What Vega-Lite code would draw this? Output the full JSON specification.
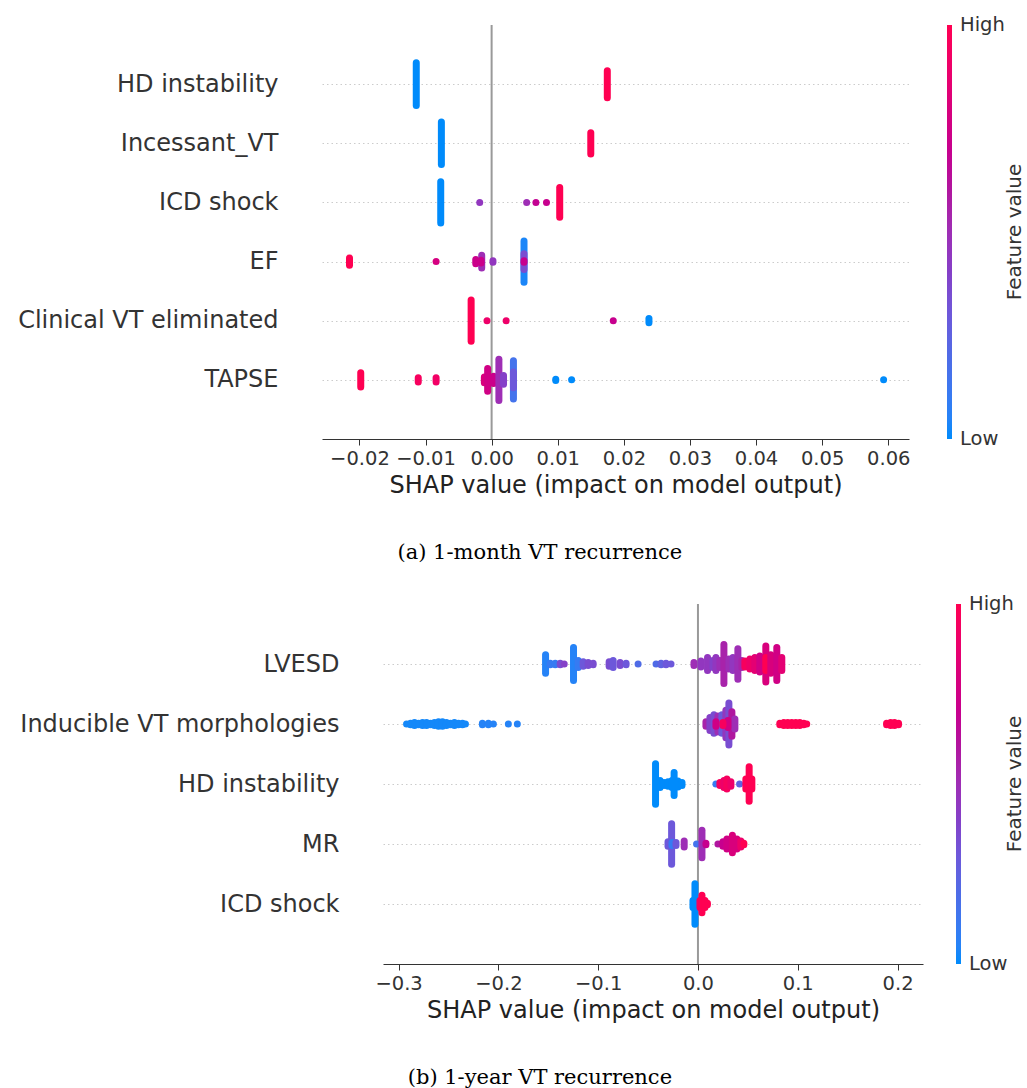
{
  "$schema": "https://vega.github.io/schema/vega-lite/v6.json",
  "padding": {"left": 17, "top": 24, "right": 0, "bottom": 0},
  "config": {
    "font": "DejaVu Sans",
    "view": {"stroke": null},
    "axis": {"labelColor": "#333333", "titleColor": "#222222", "titleFontWeight": "normal", "domainColor": "#333333", "tickColor": "#333333", "labelLimit": 0},
    "legend": {"labelColor": "#333333", "titleColor": "#333333", "titleFontWeight": "normal"}
  },
  "datasets": {
    "pts": [
      {"p":"a","f":"HD instability","v":-0.0114,"c":0,"n":31},
      {"p":"a","f":"HD instability","v":0.0175,"c":1,"n":20},
      {"p":"a","f":"Incessant_VT","v":-0.0076,"c":0,"n":31},
      {"p":"a","f":"Incessant_VT","v":0.0150,"c":1,"n":16},
      {"p":"a","f":"ICD shock","v":-0.0077,"c":0,"n":30},
      {"p":"a","f":"ICD shock","v":-0.0018,"c":0.45,"n":1},
      {"p":"a","f":"ICD shock","v":0.0053,"c":0.5,"n":1},
      {"p":"a","f":"ICD shock","v":0.0067,"c":0.68,"n":1},
      {"p":"a","f":"ICD shock","v":0.0083,"c":0.7,"n":1},
      {"p":"a","f":"ICD shock","v":0.0103,"c":1,"n":22},
      {"p":"a","f":"EF","v":-0.0215,"c":1,"n":6},
      {"p":"a","f":"EF","v":-0.0084,"c":0.78,"n":1},
      {"p":"a","f":"EF","v":-0.0024,"c":0.72,"n":4},
      {"p":"a","f":"EF","v":-0.0015,"c":0.5,"n":10},
      {"p":"a","f":"EF","v":-0.0016,"c":0.72,"n":3},
      {"p":"a","f":"EF","v":0.0002,"c":0.45,"n":2},
      {"p":"a","f":"EF","v":0.0049,"c":0.03,"n":30},
      {"p":"a","f":"EF","v":0.0049,"c":0.35,"n":12},
      {"p":"a","f":"EF","v":0.0049,"c":0.7,"n":2},
      {"p":"a","f":"Clinical VT eliminated","v":-0.0031,"c":1,"n":30},
      {"p":"a","f":"Clinical VT eliminated","v":-0.0007,"c":0.9,"n":1},
      {"p":"a","f":"Clinical VT eliminated","v":0.0022,"c":0.9,"n":1},
      {"p":"a","f":"Clinical VT eliminated","v":0.0184,"c":0.7,"n":1},
      {"p":"a","f":"Clinical VT eliminated","v":0.0238,"c":0,"n":4},
      {"p":"a","f":"TAPSE","v":-0.0198,"c":1,"n":11},
      {"p":"a","f":"TAPSE","v":-0.0111,"c":0.95,"n":4},
      {"p":"a","f":"TAPSE","v":-0.0084,"c":0.92,"n":4},
      {"p":"a","f":"TAPSE","v":-0.0011,"c":0.8,"n":5},
      {"p":"a","f":"TAPSE","v":-0.0006,"c":0.75,"n":17},
      {"p":"a","f":"TAPSE","v":0.0003,"c":0.72,"n":6},
      {"p":"a","f":"TAPSE","v":0.0011,"c":0.5,"n":30},
      {"p":"a","f":"TAPSE","v":0.0018,"c":0.4,"n":7},
      {"p":"a","f":"TAPSE","v":0.0033,"c":0.15,"n":28},
      {"p":"a","f":"TAPSE","v":0.0033,"c":0.3,"n":12},
      {"p":"a","f":"TAPSE","v":0.0097,"c":0,"n":2},
      {"p":"a","f":"TAPSE","v":0.0121,"c":0,"n":1},
      {"p":"a","f":"TAPSE","v":0.0593,"c":0,"n":1},

      {"p":"b","f":"LVESD","v":-0.1527,"c":0.05,"n":14},
      {"p":"b","f":"LVESD","v":-0.148,"c":0.1,"n":2},
      {"p":"b","f":"LVESD","v":-0.143,"c":0.1,"n":2},
      {"p":"b","f":"LVESD","v":-0.138,"c":0.35,"n":2},
      {"p":"b","f":"LVESD","v":-0.134,"c":0.4,"n":1},
      {"p":"b","f":"LVESD","v":-0.1247,"c":0.05,"n":24},
      {"p":"b","f":"LVESD","v":-0.120,"c":0.1,"n":6},
      {"p":"b","f":"LVESD","v":-0.115,"c":0.3,"n":4},
      {"p":"b","f":"LVESD","v":-0.110,"c":0.35,"n":3},
      {"p":"b","f":"LVESD","v":-0.105,"c":0.35,"n":2},
      {"p":"b","f":"LVESD","v":-0.089,"c":0.35,"n":4},
      {"p":"b","f":"LVESD","v":-0.085,"c":0.3,"n":6},
      {"p":"b","f":"LVESD","v":-0.078,"c":0.35,"n":3},
      {"p":"b","f":"LVESD","v":-0.072,"c":0.3,"n":2},
      {"p":"b","f":"LVESD","v":-0.060,"c":0.2,"n":1},
      {"p":"b","f":"LVESD","v":-0.042,"c":0.2,"n":1},
      {"p":"b","f":"LVESD","v":-0.037,"c":0.25,"n":2},
      {"p":"b","f":"LVESD","v":-0.032,"c":0.3,"n":2},
      {"p":"b","f":"LVESD","v":-0.027,"c":0.3,"n":1},
      {"p":"b","f":"LVESD","v":-0.004,"c":0.5,"n":3},
      {"p":"b","f":"LVESD","v":0.003,"c":0.45,"n":5},
      {"p":"b","f":"LVESD","v":0.0096,"c":0.45,"n":10},
      {"p":"b","f":"LVESD","v":0.015,"c":0.4,"n":6},
      {"p":"b","f":"LVESD","v":0.018,"c":0.45,"n":10},
      {"p":"b","f":"LVESD","v":0.022,"c":0.5,"n":6},
      {"p":"b","f":"LVESD","v":0.026,"c":0.55,"n":28},
      {"p":"b","f":"LVESD","v":0.031,"c":0.5,"n":8},
      {"p":"b","f":"LVESD","v":0.035,"c":0.45,"n":10},
      {"p":"b","f":"LVESD","v":0.040,"c":0.5,"n":22},
      {"p":"b","f":"LVESD","v":0.044,"c":0.55,"n":6},
      {"p":"b","f":"LVESD","v":0.047,"c":0.95,"n":5},
      {"p":"b","f":"LVESD","v":0.052,"c":0.9,"n":8},
      {"p":"b","f":"LVESD","v":0.057,"c":0.85,"n":10},
      {"p":"b","f":"LVESD","v":0.062,"c":0.75,"n":12},
      {"p":"b","f":"LVESD","v":0.068,"c":0.8,"n":26},
      {"p":"b","f":"LVESD","v":0.068,"c":1,"n":10},
      {"p":"b","f":"LVESD","v":0.073,"c":0.8,"n":14},
      {"p":"b","f":"LVESD","v":0.079,"c":0.75,"n":24},
      {"p":"b","f":"LVESD","v":0.084,"c":0.85,"n":10},

      {"p":"b","f":"Inducible VT morphologies","v":-0.292,"c":0.02,"n":1},
      {"p":"b","f":"Inducible VT morphologies","v":-0.288,"c":0.02,"n":2},
      {"p":"b","f":"Inducible VT morphologies","v":-0.284,"c":0.02,"n":3},
      {"p":"b","f":"Inducible VT morphologies","v":-0.280,"c":0.02,"n":2},
      {"p":"b","f":"Inducible VT morphologies","v":-0.276,"c":0.02,"n":3},
      {"p":"b","f":"Inducible VT morphologies","v":-0.272,"c":0.02,"n":3},
      {"p":"b","f":"Inducible VT morphologies","v":-0.268,"c":0.02,"n":2},
      {"p":"b","f":"Inducible VT morphologies","v":-0.264,"c":0.02,"n":3},
      {"p":"b","f":"Inducible VT morphologies","v":-0.260,"c":0.02,"n":4},
      {"p":"b","f":"Inducible VT morphologies","v":-0.256,"c":0.02,"n":4},
      {"p":"b","f":"Inducible VT morphologies","v":-0.252,"c":0.02,"n":3},
      {"p":"b","f":"Inducible VT morphologies","v":-0.248,"c":0.02,"n":2},
      {"p":"b","f":"Inducible VT morphologies","v":-0.244,"c":0.02,"n":3},
      {"p":"b","f":"Inducible VT morphologies","v":-0.240,"c":0.02,"n":2},
      {"p":"b","f":"Inducible VT morphologies","v":-0.236,"c":0.02,"n":2},
      {"p":"b","f":"Inducible VT morphologies","v":-0.233,"c":0.02,"n":1},
      {"p":"b","f":"Inducible VT morphologies","v":-0.216,"c":0.05,"n":2},
      {"p":"b","f":"Inducible VT morphologies","v":-0.210,"c":0.05,"n":2},
      {"p":"b","f":"Inducible VT morphologies","v":-0.205,"c":0.05,"n":1},
      {"p":"b","f":"Inducible VT morphologies","v":-0.190,"c":0.05,"n":1},
      {"p":"b","f":"Inducible VT morphologies","v":-0.181,"c":0.05,"n":1},
      {"p":"b","f":"Inducible VT morphologies","v":0.008,"c":0.55,"n":4},
      {"p":"b","f":"Inducible VT morphologies","v":0.012,"c":0.4,"n":10},
      {"p":"b","f":"Inducible VT morphologies","v":0.016,"c":0.35,"n":14},
      {"p":"b","f":"Inducible VT morphologies","v":0.020,"c":0.5,"n":12},
      {"p":"b","f":"Inducible VT morphologies","v":0.024,"c":0.3,"n":14},
      {"p":"b","f":"Inducible VT morphologies","v":0.028,"c":0.45,"n":20},
      {"p":"b","f":"Inducible VT morphologies","v":0.031,"c":0.35,"n":30},
      {"p":"b","f":"Inducible VT morphologies","v":0.034,"c":0.6,"n":18},
      {"p":"b","f":"Inducible VT morphologies","v":0.037,"c":0.5,"n":8},
      {"p":"b","f":"Inducible VT morphologies","v":0.018,"c":0.75,"n":4},
      {"p":"b","f":"Inducible VT morphologies","v":0.030,"c":0.75,"n":6},
      {"p":"b","f":"Inducible VT morphologies","v":0.025,"c":0.95,"n":3},
      {"p":"b","f":"Inducible VT morphologies","v":0.082,"c":1,"n":2},
      {"p":"b","f":"Inducible VT morphologies","v":0.086,"c":1,"n":3},
      {"p":"b","f":"Inducible VT morphologies","v":0.090,"c":1,"n":3},
      {"p":"b","f":"Inducible VT morphologies","v":0.094,"c":1,"n":3},
      {"p":"b","f":"Inducible VT morphologies","v":0.098,"c":1,"n":3},
      {"p":"b","f":"Inducible VT morphologies","v":0.102,"c":1,"n":3},
      {"p":"b","f":"Inducible VT morphologies","v":0.106,"c":1,"n":2},
      {"p":"b","f":"Inducible VT morphologies","v":0.109,"c":1,"n":1},
      {"p":"b","f":"Inducible VT morphologies","v":0.189,"c":1,"n":2},
      {"p":"b","f":"Inducible VT morphologies","v":0.193,"c":1,"n":3},
      {"p":"b","f":"Inducible VT morphologies","v":0.197,"c":1,"n":3},
      {"p":"b","f":"Inducible VT morphologies","v":0.201,"c":1,"n":2},

      {"p":"b","f":"HD instability","v":-0.0425,"c":0,"n":29},
      {"p":"b","f":"HD instability","v":-0.038,"c":0,"n":6},
      {"p":"b","f":"HD instability","v":-0.034,"c":0,"n":3},
      {"p":"b","f":"HD instability","v":-0.030,"c":0,"n":4},
      {"p":"b","f":"HD instability","v":-0.026,"c":0,"n":6},
      {"p":"b","f":"HD instability","v":-0.0239,"c":0,"n":17},
      {"p":"b","f":"HD instability","v":-0.020,"c":0,"n":5},
      {"p":"b","f":"HD instability","v":-0.016,"c":0,"n":3},
      {"p":"b","f":"HD instability","v":0.018,"c":0.1,"n":1},
      {"p":"b","f":"HD instability","v":0.022,"c":0.95,"n":3},
      {"p":"b","f":"HD instability","v":0.026,"c":0.9,"n":6},
      {"p":"b","f":"HD instability","v":0.029,"c":0.95,"n":8},
      {"p":"b","f":"HD instability","v":0.033,"c":0.9,"n":4},
      {"p":"b","f":"HD instability","v":0.0417,"c":0.25,"n":1},
      {"p":"b","f":"HD instability","v":0.048,"c":1,"n":8},
      {"p":"b","f":"HD instability","v":0.0513,"c":1,"n":25},
      {"p":"b","f":"HD instability","v":0.054,"c":1,"n":8},

      {"p":"b","f":"MR","v":-0.030,"c":0.3,"n":4},
      {"p":"b","f":"MR","v":-0.0264,"c":0.3,"n":29},
      {"p":"b","f":"MR","v":-0.026,"c":0.1,"n":3},
      {"p":"b","f":"MR","v":-0.022,"c":0.3,"n":3},
      {"p":"b","f":"MR","v":-0.0138,"c":0.5,"n":5},
      {"p":"b","f":"MR","v":-0.0014,"c":0.15,"n":1},
      {"p":"b","f":"MR","v":0.004,"c":0.5,"n":20},
      {"p":"b","f":"MR","v":0.008,"c":0.7,"n":2},
      {"p":"b","f":"MR","v":0.020,"c":0.6,"n":1},
      {"p":"b","f":"MR","v":0.025,"c":0.7,"n":4},
      {"p":"b","f":"MR","v":0.029,"c":0.75,"n":8},
      {"p":"b","f":"MR","v":0.0345,"c":0.8,"n":13},
      {"p":"b","f":"MR","v":0.039,"c":0.8,"n":8},
      {"p":"b","f":"MR","v":0.043,"c":0.9,"n":5},
      {"p":"b","f":"MR","v":0.046,"c":1,"n":2},

      {"p":"b","f":"ICD shock","v":-0.005,"c":0,"n":6},
      {"p":"b","f":"ICD shock","v":-0.003,"c":0,"n":29},
      {"p":"b","f":"ICD shock","v":0.002,"c":0.95,"n":6},
      {"p":"b","f":"ICD shock","v":0.004,"c":1,"n":13},
      {"p":"b","f":"ICD shock","v":0.007,"c":1,"n":6},
      {"p":"b","f":"ICD shock","v":0.0095,"c":1,"n":2}
    ]
  },
  "spacing": 40,
  "resolve": {"scale": {"color": "independent"}, "legend": {"color": "independent"}},
  "vconcat": [
    {
      "width": 526,
      "height": 414,
      "title": {"text": "(a) 1-month VT recurrence", "orient": "bottom", "anchor": "middle", "frame": "bounds", "font": "DejaVu Serif", "fontSize": 21, "fontWeight": "normal", "color": "#000000", "offset": 44, "dx": 18},
      "layer": [
        {
          "data": {"values": [{"z": 0}]},
          "mark": {"type": "rule", "color": "#999999", "strokeWidth": 2},
          "encoding": {"x": {"field": "z", "type": "quantitative"}}
        },
        {
          "data": {"name": "pts"},
          "transform": [
            {"filter": "datum.p == 'a'"},
            {"calculate": "indexof(['TAPSE','Clinical VT eliminated','EF','ICD shock','Incessant_VT','HD instability'], datum.f)", "as": "r"},
            {"calculate": "datum.r + (datum.n - 1) * 0.012 + 0.0002", "as": "ytop"},
            {"calculate": "datum.r - (datum.n - 1) * 0.012 - 0.0002", "as": "ybot"}
          ],
          "mark": {"type": "rule", "strokeCap": "round", "strokeWidth": 7},
          "encoding": {
            "x": {"field": "v", "type": "quantitative", "title": "SHAP value (impact on model output)",
              "scale": {"domain": [-0.02566, 0.06314], "range": [-61, 526], "nice": false, "zero": false},
              "axis": {"values": [-0.02, -0.01, 0, 0.01, 0.02, 0.03, 0.04, 0.05, 0.06], "format": ".2f", "grid": false, "labelFontSize": 19.5, "titleFontSize": 24, "tickSize": 6, "labelPadding": 4, "titlePadding": 6, "labelFlush": false}},
            "y": {"field": "ytop", "type": "quantitative",
              "scale": {"domain": [-1, 6], "nice": false, "zero": false},
              "axis": {"values": [0, 1, 2, 3, 4, 5], "labelExpr": "['TAPSE','Clinical VT eliminated','EF','ICD shock','Incessant_VT','HD instability'][datum.value]", "title": null, "domain": false, "ticks": false, "grid": true, "gridDash": [1.5, 3], "gridColor": "#cccccc", "labelFontSize": 24, "labelPadding": 105, "labelLimit": 0}},
            "y2": {"field": "ybot"},
            "color": {"field": "c", "type": "quantitative",
              "scale": {"domain": [0, 1], "range": ["#008bfb", "#4f6be6", "#8440c8", "#b0169f", "#d8007c", "#ff0052"]},
              "legend": {"title": "Feature value", "values": [0, 1], "labelExpr": "datum.value >= 1 ? 'High' : 'Low'", "gradientLength": 414, "gradientThickness": 5, "gradientStrokeWidth": 0, "offset": 38, "titleOrient": "right", "titleAnchor": "middle", "titleFontSize": 20, "labelFontSize": 19.5, "labelOffset": 8, "titlePadding": 2, "direction": "vertical",
                "encode": {"labels": {"update": {"baseline": {"value": "middle"}}}, "title": {"update": {"angle": {"value": 270}, "dy": {"value": 18}}}}}}
          }
        }
      ]
    },
    {
      "width": 540,
      "height": 360,
      "title": {"text": "(b) 1-year VT recurrence", "orient": "bottom", "anchor": "middle", "frame": "bounds", "font": "DejaVu Serif", "fontSize": 21, "fontWeight": "normal", "color": "#000000", "offset": 44, "dx": 17},
      "layer": [
        {
          "data": {"values": [{"z": 0}]},
          "mark": {"type": "rule", "color": "#999999", "strokeWidth": 2},
          "encoding": {"x": {"field": "z", "type": "quantitative"}}
        },
        {
          "data": {"name": "pts"},
          "transform": [
            {"filter": "datum.p == 'b'"},
            {"calculate": "indexof(['ICD shock','MR','HD instability','Inducible VT morphologies','LVESD'], datum.f)", "as": "r"},
            {"calculate": "datum.r + (datum.n - 1) * 0.012 + 0.0002", "as": "ytop"},
            {"calculate": "datum.r - (datum.n - 1) * 0.012 - 0.0002", "as": "ybot"}
          ],
          "mark": {"type": "rule", "strokeCap": "round", "strokeWidth": 7},
          "encoding": {
            "x": {"field": "v", "type": "quantitative", "title": "SHAP value (impact on model output)",
              "scale": {"domain": [-0.3156, 0.2255], "nice": false, "zero": false},
              "axis": {"values": [-0.3, -0.2, -0.1, 0, 0.1, 0.2], "format": ".1f", "grid": false, "labelFontSize": 19.5, "titleFontSize": 24, "tickSize": 6, "labelPadding": 4, "titlePadding": 6, "labelFlush": false}},
            "y": {"field": "ytop", "type": "quantitative",
              "scale": {"domain": [-1, 5], "nice": false, "zero": false},
              "axis": {"values": [0, 1, 2, 3, 4], "labelExpr": "['ICD shock','MR','HD instability','Inducible VT morphologies','LVESD'][datum.value]", "title": null, "domain": false, "ticks": false, "grid": true, "gridDash": [1.5, 3], "gridColor": "#cccccc", "labelFontSize": 24, "labelPadding": 44, "labelLimit": 0}},
            "y2": {"field": "ybot"},
            "color": {"field": "c", "type": "quantitative",
              "scale": {"domain": [0, 1], "range": ["#008bfb", "#4f6be6", "#8440c8", "#b0169f", "#d8007c", "#ff0052"]},
              "legend": {"title": "Feature value", "values": [0, 1], "labelExpr": "datum.value >= 1 ? 'High' : 'Low'", "gradientLength": 360, "gradientThickness": 5, "gradientStrokeWidth": 0, "offset": 33, "titleOrient": "right", "titleAnchor": "middle", "titleFontSize": 20, "labelFontSize": 19.5, "labelOffset": 8, "titlePadding": 2, "direction": "vertical",
                "encode": {"labels": {"update": {"baseline": {"value": "middle"}}}, "title": {"update": {"angle": {"value": 270}, "dy": {"value": 9}}}}}}
          }
        }
      ]
    }
  ]
}
